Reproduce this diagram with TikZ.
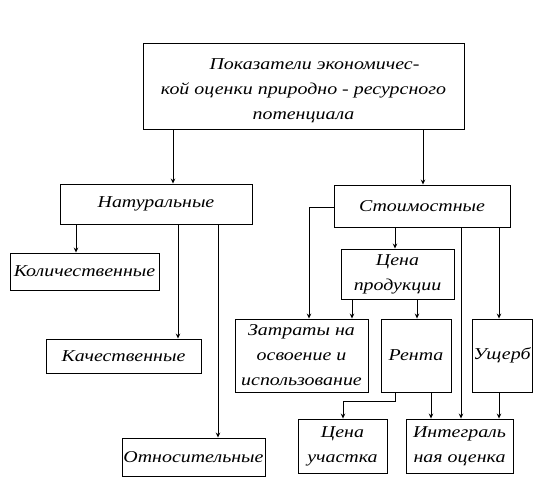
\documentclass[tikz,border=0pt]{standalone}
\usepackage{fontspec}
\setmainfont{Liberation Serif}[FakeStretch=1.2]
\usetikzlibrary{arrows.meta}
\begin{document}
\begin{tikzpicture}[x=1pt,y=-1pt,
  box/.style={draw,line width=0.9pt,inner sep=0pt,align=center,font=\fontsize{16.6}{25}\selectfont\itshape},
  arr/.style={-{Stealth[length=5pt,width=4.5pt]},line width=0.9pt},
  ln/.style={line width=0.9pt}]
\useasboundingbox (0,0) rectangle (547,493);
\def\bx#1#2#3#4#5#6{\node[box,minimum width={#4-#2},minimum height={#5-#3}] (#1) at ({(#2+#4)/2},{(#3+#5)/2}) {#6};}
\bx{main}{143}{43}{464}{129}{\rule{0pt}{20pt}\hspace*{22pt}Показатели экономичес-\\кой оценки природно - ресурсного\\потенциала}
\bx{nat}{60}{184}{252}{224}{Натуральные}
\bx{kol}{10}{253}{159}{290}{Количественные}
\bx{kach}{46}{339}{201}{373}{Качественные}
\bx{otn}{122}{438}{265}{476}{Относительные}
\bx{stoim}{334}{185}{510}{227}{Стоимостные}
\bx{cprod}{341}{249}{454}{299}{Цена\\продукции}
\bx{zatr}{235}{319}{368}{392}{Затраты на\\освоение и\\использование}
\bx{renta}{381}{319}{451}{392}{Рента}
\bx{usch}{472}{319}{532}{392}{Ущерб}
\bx{cuch}{298}{419}{387}{473}{Цена\\участка}
\bx{integ}{406}{419}{513}{473}{Интеграль\\ная оценка}
% main -> nat, stoim
\draw[arr] (main.south -| 173,0) -- (nat.north -| 173,0);
\draw[arr] (main.south -| 423,0) -- (stoim.north -| 423,0);
% nat children
\draw[arr] (nat.south -| 76,0) -- (kol.north -| 76,0);
\draw[arr] (nat.south -| 178,0) -- (kach.north -| 178,0);
\draw[arr] (nat.south -| 218,0) -- (otn.north -| 218,0);
% stoim children
\draw[arr] (stoim.west |- 0,207) -| (zatr.north -| 309,0);
\draw[arr] (stoim.south -| 395,0) -- (cprod.north -| 395,0);
\draw[arr] (stoim.south -| 461,0) -- (integ.north -| 461,0);
\draw[arr] (stoim.south -| 499,0) -- (usch.north -| 499,0);
% cprod children
\draw[arr] (cprod.south -| 352,0) -- (zatr.north -| 352,0);
\draw[arr] (cprod.south -| 417,0) -- (renta.north -| 417,0);
% renta
\coordinate (rb) at (395,401);
\draw[arr] (renta.south -| rb) -- (rb) -| (cuch.north -| 343,0);
\draw[arr] (renta.south -| 431,0) -- (integ.north -| 431,0);
\draw[arr] (usch.south -| 499,0) -- (integ.north -| 499,0);
\end{tikzpicture}
\end{document}
